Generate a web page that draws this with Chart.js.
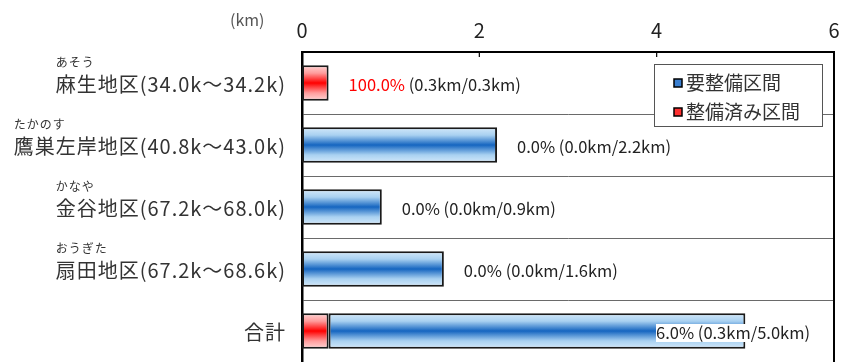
<!DOCTYPE html>
<html lang="ja">
<head>
<meta charset="utf-8">
<script src="https://cdn.jsdelivr.net/npm/chart.js@4.4.1/dist/chart.umd.min.js"></script>
<style>
    html, body { margin: 0; padding: 0; background: #fff; }
    #wrap { position: relative; width: 856px; height: 362px; }
</style>
</head>
<body>
<div id="wrap"><canvas id="chart"></canvas></div>
<script>
// 区間データ (km)
const categories = ['麻生地区(34.0k～34.2k)', '鷹巣左岸地区(40.8k～43.0k)', '金谷地区(67.2k～68.0k)', '扇田地区(67.2k～68.6k)', '合計'];
const furigana = ['あそう', 'たかのす', 'かなや', 'おうぎた', ''];
const doneKm = [0.3, null, null, null, 0.3];     // 整備済み区間
const remainKm = [null, 2.2, 0.9, 1.6, 4.7];     // 要整備区間
const totalKm = [0.3, 2.2, 0.9, 1.6, 5.0];
const xTicks = [0, 2, 4, 6];

const FONT = '"Noto Sans CJK JP", "Noto Sans", sans-serif';
const BAR_PCT = 0.57;
const blueStops = ['#d4e9fa', '#a9d1f1', '#1565c0', '#a9d1f1', '#d4e9fa'];
const redStops = ['#ffd6d6', '#ff9c9c', '#ff0000', '#ff9c9c', '#ffd6d6'];

function barGradient(context, stops) {
    const chart = context.chart;
    const area = chart.chartArea;
    const yScale = chart.scales.y;
    if (!area || !yScale || context.dataIndex === undefined) return stops[2];
    const band = (area.bottom - area.top) / categories.length;
    const h = band * BAR_PCT;
    const cy = yScale.getPixelForValue(context.dataIndex);
    const g = chart.ctx.createLinearGradient(0, cy - h / 2, 0, cy + h / 2);
    g.addColorStop(0, stops[0]);
    g.addColorStop(0.22, stops[1]);
    g.addColorStop(0.5, stops[2]);
    g.addColorStop(0.78, stops[3]);
    g.addColorStop(1, stops[4]);
    return g;
}

// 枠線・内向き目盛・(km)
const framePlugin = {
    id: 'frame',
    afterDraw(chart) {
        const { ctx, chartArea: a, scales: { x } } = chart;
        ctx.save();
        ctx.strokeStyle = '#000';
        ctx.lineWidth = 2;
        ctx.beginPath();
        ctx.moveTo(a.left, a.top);
        ctx.lineTo(a.right, a.top);
        ctx.lineTo(a.right, a.bottom);
        ctx.stroke();
        ctx.lineWidth = 1.2;
        xTicks.forEach(v => {
            const px = x.getPixelForValue(v);
            ctx.beginPath();
            ctx.moveTo(px, a.top);
            ctx.lineTo(px, a.top + 5);
            ctx.stroke();
        });
        ctx.fillStyle = '#555';
        ctx.font = '16px ' + FONT;
        ctx.textAlign = 'left';
        ctx.textBaseline = 'middle';
        ctx.fillText('(km)', 230, 20);
        ctx.restore();
    }
};

// 地区名とふりがな
const catLabelPlugin = {
    id: 'catLabels',
    afterDraw(chart) {
        const { ctx, chartArea: a, scales: { y } } = chart;
        ctx.save();
        ctx.fillStyle = '#333';
        categories.forEach((c, i) => {
            const cy = y.getPixelForValue(i);
            ctx.font = '20px ' + FONT;
            ctx.letterSpacing = '1px';
            ctx.textAlign = 'right';
            ctx.textBaseline = 'middle';
            const right = a.left - 16;
            ctx.fillText(c, right, cy + 1);
            const w = ctx.measureText(c).width;
            if (furigana[i]) {
                ctx.font = '12px ' + FONT;
                ctx.textAlign = 'left';
                ctx.fillText(furigana[i], right - w, cy - 21);
            }
        });
        ctx.restore();
    }
};

// 整備率ラベル
const rateLabelPlugin = {
    id: 'rateLabels',
    afterDatasetsDraw(chart) {
        const { ctx, chartArea: a, scales: { x, y } } = chart;
        ctx.save();
        ctx.font = '16.5px ' + FONT;
        ctx.textBaseline = 'middle';
        ctx.textAlign = 'left';
        categories.forEach((c, i) => {
            const done = doneKm[i] || 0;
            const total = totalKm[i];
            const rate = (done / total * 100).toFixed(1) + '%';
            const rest = ' (' + done.toFixed(1) + 'km/' + total.toFixed(1) + 'km)';
            const w1 = ctx.measureText(rate).width;
            const w2 = ctx.measureText(rest).width;
            let px = x.getPixelForValue(total) + 20;
            const limit = a.right - 24;
            let boxed = false;
            if (px + w1 + w2 > limit) {
                px = limit - w1 - w2;
                boxed = true;
            }
            const cy = y.getPixelForValue(i) + 2;
            if (boxed) {
                ctx.fillStyle = '#fff';
                ctx.fillRect(px, cy - 9, w1 + w2 + 2, 18);
            }
            ctx.fillStyle = rate === '100.0%' ? '#ff0000' : '#222';
            ctx.fillText(rate, px, cy);
            ctx.fillStyle = '#222';
            ctx.fillText(rest, px + w1, cy);
        });
        ctx.restore();
    }
};

// 凡例
const legendPlugin = {
    id: 'boxLegend',
    afterDraw(chart) {
        const ctx = chart.ctx;
        const items = [
            { text: '要整備区間', color: '#3a7fd0' },
            { text: '整備済み区間', color: '#ff3030' }
        ];
        ctx.save();
        ctx.fillStyle = '#fff';
        ctx.fillRect(654, 64, 168, 62);
        ctx.strokeStyle = '#555';
        ctx.lineWidth = 1;
        ctx.strokeRect(654.5, 64.5, 168, 62);
        ctx.font = '19px ' + FONT;
        ctx.textBaseline = 'middle';
        ctx.textAlign = 'left';
        items.forEach((it, k) => {
            const cy = 83 + k * 29;
            ctx.fillStyle = it.color;
            ctx.fillRect(674, cy - 4, 8, 8);
            ctx.strokeStyle = '#000';
            ctx.lineWidth = 1.5;
            ctx.strokeRect(674, cy - 4, 8, 8);
            ctx.fillStyle = '#333';
            ctx.fillText(it.text, 686, cy);
        });
        ctx.restore();
    }
};

document.addEventListener('DOMContentLoaded', function () {
    const ctx = document.getElementById('chart').getContext('2d');
    new Chart(ctx, {
        type: 'bar',
        data: {
            labels: categories,
            datasets: [{
                label: '整備済み区間',
                data: doneKm,
                backgroundColor: c => barGradient(c, redStops),
                borderColor: '#1a1a1a',
                borderWidth: 2,
                borderSkipped: false
            }, {
                label: '要整備区間',
                data: remainKm,
                backgroundColor: c => barGradient(c, blueStops),
                borderColor: '#1a1a1a',
                borderWidth: 2,
                borderSkipped: false
            }]
        },
        options: {
            indexAxis: 'y',
            responsive: true,
            maintainAspectRatio: false,
            animation: false,
            layout: { padding: { left: 302, right: 22, top: 8, bottom: 0 } },
            datasets: { bar: { barPercentage: BAR_PCT, categoryPercentage: 1 } },
            plugins: {
                legend: { display: false },
                tooltip: { enabled: false }
            },
            scales: {
                x: {
                    position: 'top',
                    stacked: true,
                    min: 0,
                    max: 6,
                    afterBuildTicks: axis => { axis.ticks = xTicks.map(v => ({ value: v })); },
                    grid: { display: false, drawTicks: false },
                    border: { display: false },
                    ticks: {
                        padding: 10,
                        color: '#222',
                        font: { family: FONT, size: 20 }
                    }
                },
                y: {
                    stacked: true,
                    grid: { color: '#6a6a6a', lineWidth: 1, drawTicks: false, offset: true },
                    border: { color: '#000', width: 2.5 },
                    ticks: { display: false }
                }
            }
        },
        plugins: [framePlugin, catLabelPlugin, rateLabelPlugin, legendPlugin]
    });
});
</script>
</body>
</html>
